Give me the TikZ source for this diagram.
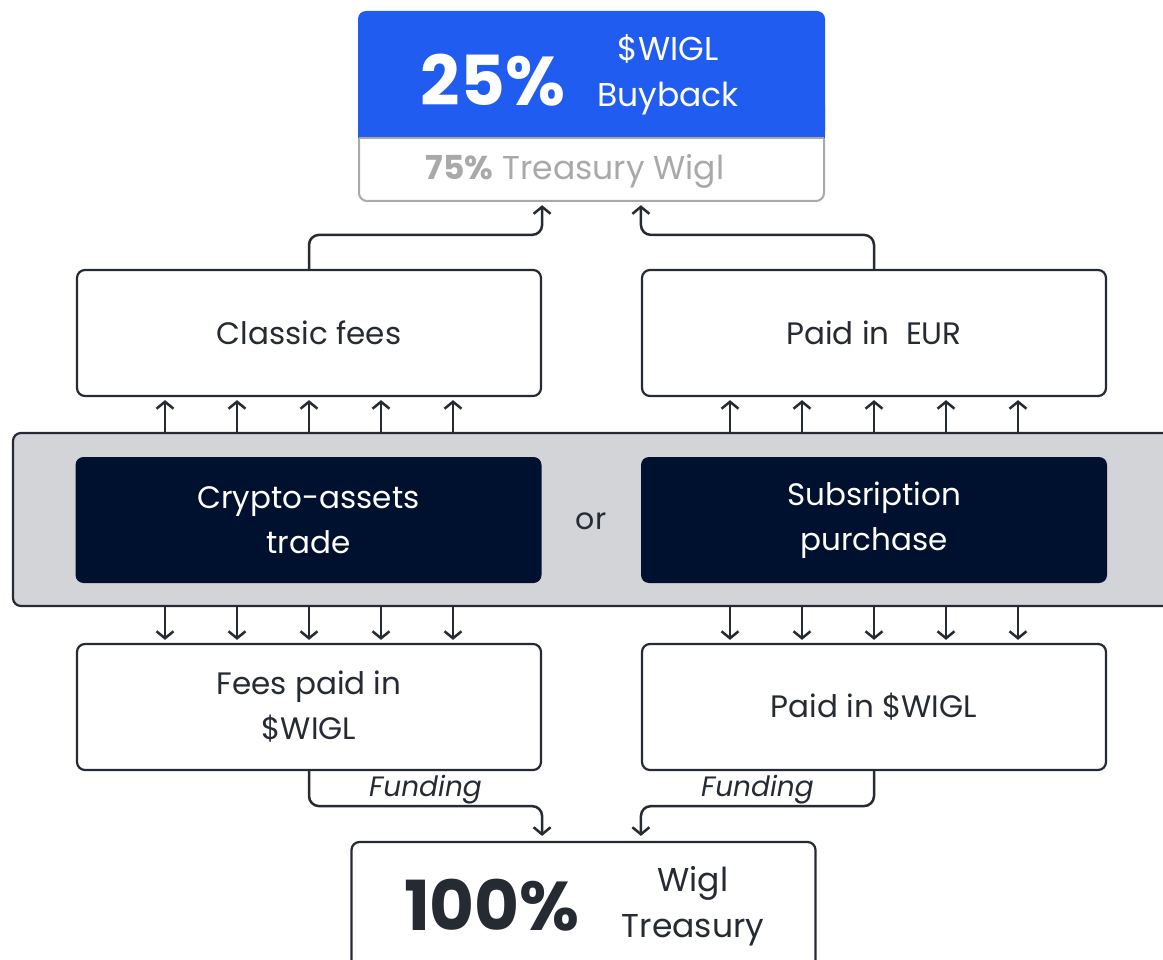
\documentclass[tikz,border=0pt]{standalone}
\usepackage{fontspec}
\setmainfont{Poppins}
\usetikzlibrary{arrows.meta,calc}
\definecolor{wblue}{HTML}{215CF0}
\definecolor{ink}{HTML}{262A33}
\definecolor{navy}{HTML}{00102F}
\definecolor{bandc}{HTML}{D3D4D8}
\definecolor{lgray}{HTML}{A9A9A9}
\tikzset{
 conn/.style={draw=ink, line width=2.5pt, rounded corners=10pt},
 tip/.style={-{Straight Barb[length=7pt,width=17pt]}},
 wbox/.style={draw=ink, fill=white, line width=2.2pt, rounded corners=8pt, minimum width=464pt, minimum height=126pt, align=center, text=ink, font=\fontsize{31}{45}\selectfont},
 dbox/.style={fill=navy, rounded corners=8pt, minimum width=466pt, minimum height=126pt, align=center, text=white, font=\fontsize{31}{45}\selectfont},
 bigpct/.style={font=\fontsize{69}{69}\selectfont\bfseries},
 side/.style={align=center, font=\fontsize{33}{46}\selectfont},
 fund/.style={text=ink, font=\fontsize{28}{28}\selectfont\itshape}
}
\begin{document}
\begin{tikzpicture}[x=1pt,y=-1pt]
\useasboundingbox (0,0) rectangle (1163,960);
\clip (0,0) rectangle (1163,960);
\fill[white] (0,0) rectangle (1163,960);
% top box
\node[minimum width=465pt, minimum height=190pt, inner sep=0pt] (top) at (591.5,106) {};
\draw[lgray, fill=white, line width=2pt, rounded corners=8pt] (359,100) rectangle (824,201);
\fill[wblue, rounded corners=8pt] (358,11) rectangle (825,138);
\fill[wblue] (358,110) rectangle (825,138);
\draw[lgray, line width=2pt] (359,138) -- (824,138);
\node[text=white, bigpct] (p25) at (493,80) {25\%};
\node[text=white, side] (bb) at (668,75) {\$WIGL\\Buyback};
\node[text=lgray, font=\fontsize{33}{34}\selectfont] (tw) at (575,171) {\textbf{75\%} Treasury Wigl};
% band
\node[draw=ink, fill=bandc, line width=2.2pt, rounded corners=8pt, minimum width=1180pt, minimum height=173pt, inner sep=0pt] (band) at (603,519.5) {};
\node[dbox] (crypto) at (308.5,520) {Crypto-assets\\trade};
\node[dbox] (sub) at (874,520) {Subsription\\purchase};
\node[text=ink, font=\fontsize{30}{32}\selectfont] (or) at (591,521) {or};
% white boxes
\node[wbox] (classic) at (309,333) {Classic fees};
\node[wbox] (eur) at (874,333) {Paid in\ \ EUR};
\node[wbox] (fees) at (309,707) {Fees paid in\\\$WIGL};
\node[wbox] (paidw) at (874,707) {Paid in \$WIGL};
\node[wbox, minimum height=170pt] (treas) at (583.5,927) {};
\node[text=ink, bigpct] (p100) at (492,905) {100\%};
\node[text=ink, side] (wt) at (693,906) {Wigl\\Treasury};
% arrows band -> boxes
\foreach \d in {-144,-72,0,72,144} {
  \draw[conn,tip] ($(band.north -| classic.south)+(\d,0)$) -- ($(classic.south)+(\d,3)$);
  \draw[conn,tip] ($(band.north -| eur.south)+(\d,0)$) -- ($(eur.south)+(\d,3)$);
  \draw[conn,tip] ($(band.south -| fees.north)+(\d,0)$) -- ($(fees.north)+(\d,-3)$);
  \draw[conn,tip] ($(band.south -| paidw.north)+(\d,0)$) -- ($(paidw.north)+(\d,-3)$);
}
% to top box
\draw[conn,tip] (classic.north) -- ++(0,-34) -| ($(classic.east |- top.south)+(0,4)$);
\draw[conn,tip] (eur.north) -- ++(0,-34) -| ($(eur.west |- top.south)+(0,4)$);
% funding
\draw[conn,tip] (fees.south) -- ++(0,35) -| node[pos=0.25, above=-3pt, fund] {Funding} ($(fees.east |- treas.north)+(0,-5)$);
\draw[conn,tip] (paidw.south) -- ++(0,35) -| node[pos=0.25, above=-3pt, fund] {Funding} ($(paidw.west |- treas.north)+(0,-5)$);
\end{tikzpicture}
\end{document}
